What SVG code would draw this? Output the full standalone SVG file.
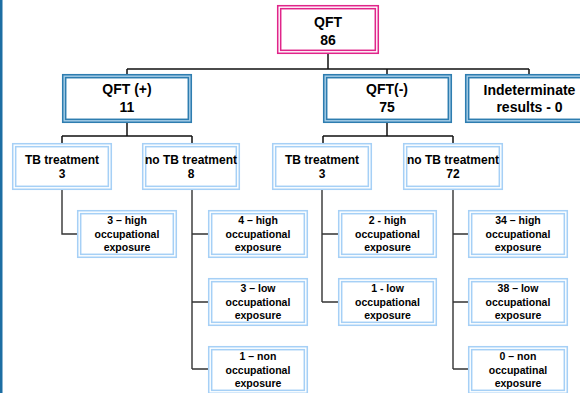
<svg xmlns="http://www.w3.org/2000/svg" width="580" height="393" viewBox="0 0 580 393">
<style>
text{font-family:"Liberation Sans",Arial,sans-serif;font-weight:bold;fill:#000;text-anchor:middle}
.t1{font-size:14px}
.t2{font-size:12px}
.t3{font-size:10.5px}
.pinkO{fill:#fff;stroke:#e0258a;stroke-width:4.5}
.pinkI{fill:none;stroke:#fff;stroke-width:1.4}
.blueO{fill:#fff;stroke:#2e7db0;stroke-width:4.5}
.blueI{fill:none;stroke:#a8cfe8;stroke-width:1.4}
.ltO{fill:#fff;stroke:#a6d0f6;stroke-width:4.5}
.ltI{fill:none;stroke:#fff;stroke-width:1.4}
.c{fill:none;stroke:#111;stroke-width:1.5}
.c2{fill:none;stroke:#333;stroke-width:1.4}
</style>
<rect x="0" y="0" width="580" height="393" fill="#fff"/>
<rect x="0" y="0" width="2.5" height="393" fill="#1d6ea3"/>
<g id="connectors">
<path class="c" d="M328,54V69M127,69H529M127,69V74M387,69V74M529,69V74"/>
<path class="c" d="M127,123V136M62,136H192M62,136V143M192,136V143"/>
<path class="c" d="M387,123V136M323,136H453M323,136V143M453,136V143"/>
<path class="c2" d="M62,190V234H77"/>
<path class="c2" d="M192,190V369M192,234H208M192,302H208M192,369H208"/>
<path class="c2" d="M322,190V302M322,234H338M322,302H338"/>
<path class="c2" d="M453,190V369M453,234H468M453,302H468M453,369H468"/>
</g>
<g id="qft">
<rect class="pinkO" x="279.2" y="7.2" width="97.6" height="44.6"/>
<rect class="pinkI" x="279.2" y="7.2" width="97.6" height="44.6"/>
<text class="t1" x="328" y="27">QFT</text>
<text class="t1" x="328" y="45">86</text>
</g>
<g id="qft-pos">
<rect class="blueO" x="64.2" y="76.2" width="125.6" height="44.6"/>
<rect class="blueI" x="64.2" y="76.2" width="125.6" height="44.6"/>
<text class="t1" x="127" y="94">QFT (+)</text>
<text class="t1" x="127" y="112">11</text>
</g>
<g id="qft-neg">
<rect class="blueO" x="325.2" y="76.2" width="124.6" height="44.6"/>
<rect class="blueI" x="325.2" y="76.2" width="124.6" height="44.6"/>
<text class="t1" x="387" y="94">QFT(-)</text>
<text class="t1" x="387" y="112">75</text>
</g>
<g id="indeterminate">
<rect class="blueO" x="467.2" y="76.2" width="123.6" height="44.6"/>
<rect class="blueI" x="467.2" y="76.2" width="123.6" height="44.6"/>
<text class="t1" x="529.5" y="95">Indeterminate</text>
<text class="t1" x="529.5" y="112">results - 0</text>
</g>
<g id="pos-tb">
<rect class="ltO" x="14.2" y="145.2" width="95.6" height="42.6"/>
<rect class="ltI" x="14.2" y="145.2" width="95.6" height="42.6"/>
<text class="t2" x="62" y="164">TB treatment</text>
<text class="t2" x="62" y="178">3</text>
</g>
<g id="pos-notb">
<rect class="ltO" x="144.2" y="145.2" width="93.6" height="42.6"/>
<rect class="ltI" x="144.2" y="145.2" width="93.6" height="42.6"/>
<text class="t2" x="191" y="164">no TB treatment</text>
<text class="t2" x="191" y="178">8</text>
</g>
<g id="neg-tb">
<rect class="ltO" x="274.2" y="145.2" width="95.6" height="42.6"/>
<rect class="ltI" x="274.2" y="145.2" width="95.6" height="42.6"/>
<text class="t2" x="322" y="164">TB treatment</text>
<text class="t2" x="322" y="178">3</text>
</g>
<g id="neg-notb">
<rect class="ltO" x="405.2" y="145.2" width="95.6" height="42.6"/>
<rect class="ltI" x="405.2" y="145.2" width="95.6" height="42.6"/>
<text class="t2" x="453" y="164">no TB treatment</text>
<text class="t2" x="453" y="178">72</text>
</g>
<g id="pos-tb-high">
<rect class="ltO" x="79.2" y="212.2" width="95.6" height="43.6"/>
<rect class="ltI" x="79.2" y="212.2" width="95.6" height="43.6"/>
<text class="t3" x="127" y="224">3 – high</text>
<text class="t3" x="127" y="238">occupational</text>
<text class="t3" x="127" y="251">exposure</text>
</g>
<g id="pos-notb-high">
<rect class="ltO" x="210.2" y="212.2" width="95.6" height="43.6"/>
<rect class="ltI" x="210.2" y="212.2" width="95.6" height="43.6"/>
<text class="t3" x="258" y="224">4 – high</text>
<text class="t3" x="258" y="238">occupational</text>
<text class="t3" x="258" y="251">exposure</text>
</g>
<g id="pos-notb-low">
<rect class="ltO" x="210.2" y="280.2" width="95.6" height="43.6"/>
<rect class="ltI" x="210.2" y="280.2" width="95.6" height="43.6"/>
<text class="t3" x="258" y="292">3 – low</text>
<text class="t3" x="258" y="306">occupational</text>
<text class="t3" x="258" y="319">exposure</text>
</g>
<g id="pos-notb-non">
<rect class="ltO" x="210.2" y="348.2" width="95.6" height="43.6"/>
<rect class="ltI" x="210.2" y="348.2" width="95.6" height="43.6"/>
<text class="t3" x="258" y="360">1 – non</text>
<text class="t3" x="258" y="374">occupational</text>
<text class="t3" x="258" y="387">exposure</text>
</g>
<g id="neg-tb-high">
<rect class="ltO" x="340.2" y="212.2" width="94.6" height="43.6"/>
<rect class="ltI" x="340.2" y="212.2" width="94.6" height="43.6"/>
<text class="t3" x="387.5" y="224">2 - high</text>
<text class="t3" x="387.5" y="238">occupational</text>
<text class="t3" x="387.5" y="251">exposure</text>
</g>
<g id="neg-tb-low">
<rect class="ltO" x="340.2" y="280.2" width="94.6" height="43.6"/>
<rect class="ltI" x="340.2" y="280.2" width="94.6" height="43.6"/>
<text class="t3" x="387.5" y="292">1 - low</text>
<text class="t3" x="387.5" y="306">occupational</text>
<text class="t3" x="387.5" y="319">exposure</text>
</g>
<g id="neg-notb-high">
<rect class="ltO" x="470.2" y="212.2" width="95.6" height="43.6"/>
<rect class="ltI" x="470.2" y="212.2" width="95.6" height="43.6"/>
<text class="t3" x="518" y="224">34 – high</text>
<text class="t3" x="518" y="238">occupational</text>
<text class="t3" x="518" y="251">exposure</text>
</g>
<g id="neg-notb-low">
<rect class="ltO" x="470.2" y="280.2" width="95.6" height="43.6"/>
<rect class="ltI" x="470.2" y="280.2" width="95.6" height="43.6"/>
<text class="t3" x="518" y="292">38 – low</text>
<text class="t3" x="518" y="306">occupational</text>
<text class="t3" x="518" y="319">exposure</text>
</g>
<g id="neg-notb-non">
<rect class="ltO" x="470.2" y="348.2" width="95.6" height="43.6"/>
<rect class="ltI" x="470.2" y="348.2" width="95.6" height="43.6"/>
<text class="t3" x="518" y="360">0 – non</text>
<text class="t3" x="518" y="374">occupatinal</text>
<text class="t3" x="518" y="387">exposure</text>
</g>
</svg>
